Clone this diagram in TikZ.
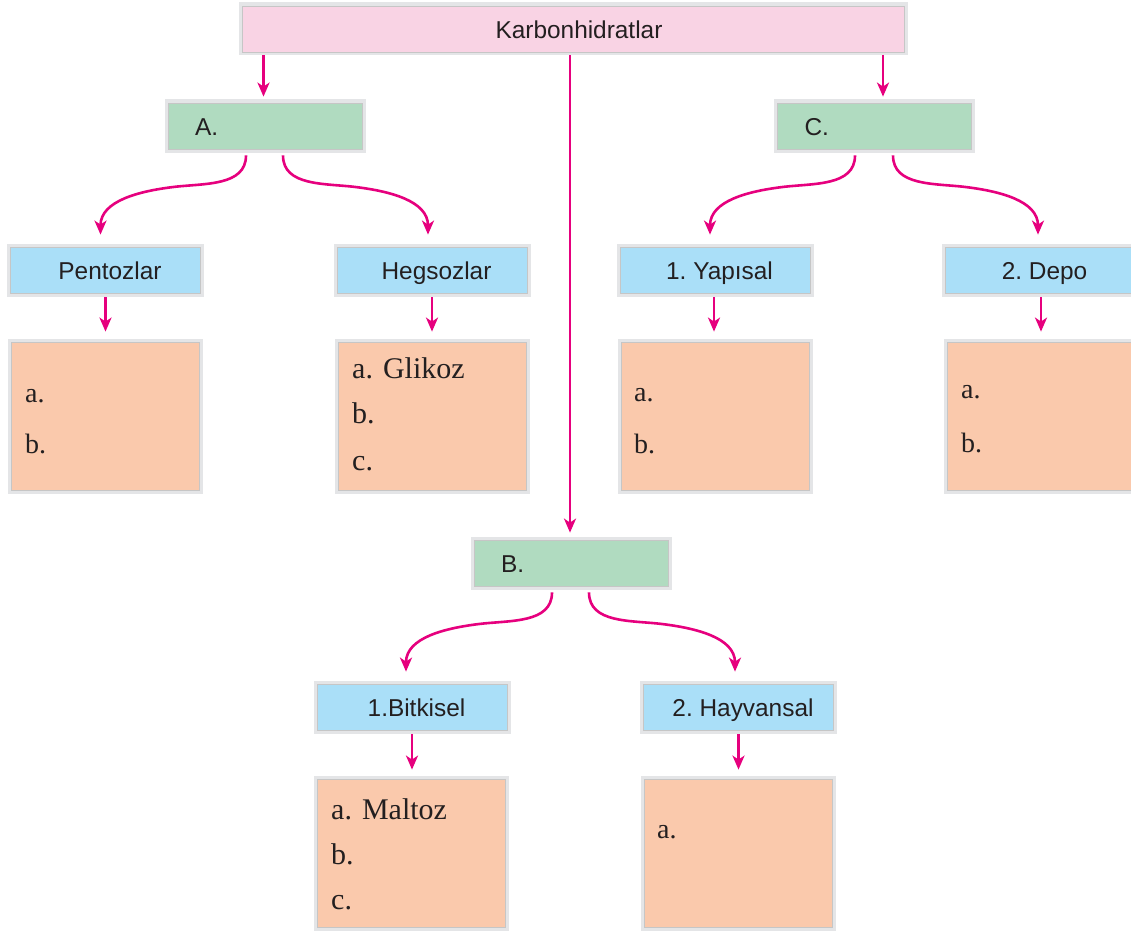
\documentclass[tikz,border=0pt]{standalone}
\usepackage{fontspec}
\setmainfont{Liberation Sans}
\newfontfamily\listfont{Liberation Serif}
\usetikzlibrary{arrows.meta,calc}
\definecolor{pinkfill}{HTML}{F9D3E4}
\definecolor{greenfill}{HTML}{B0DBC0}
\definecolor{bluefill}{HTML}{AADFF8}
\definecolor{orangefill}{HTML}{FAC9AC}
\definecolor{frame}{HTML}{E4E5E7}
\definecolor{boxline}{HTML}{C6C6C6}
\definecolor{magentaline}{HTML}{E6007E}
\definecolor{txt}{HTML}{231F20}
\tikzset{
  box/.style={draw=boxline, line width=0.8pt, preaction={draw=frame, line width=7pt},
    inner sep=0pt, text=txt, font=\fontsize{24.4}{28}\selectfont,
    text height=18.4pt, text depth=0pt},
  topbox/.style={box, fill=pinkfill, minimum width=662pt, minimum height=46pt,
    execute at begin node={\hspace*{12pt}}},
  greenbox/.style={box, fill=greenfill, minimum height=46pt, inner xsep=27pt,
    text width=140pt, align=left},
  bluebox/.style={box, fill=bluefill, minimum width=190pt, minimum height=46pt,
    execute at begin node={\hspace*{9pt}}},
  orangebox/.style={box, fill=orangefill, minimum width=188pt, minimum height=148pt},
  item/.style={anchor=base west, inner sep=0pt, text=txt, font=\listfont\fontsize{28}{32}\selectfont},
  itembig/.style={item, font=\listfont\fontsize{30}{34}\selectfont},
  arr/.style={draw=magentaline, line width=2.6pt,
    -{Stealth[length=14pt,width=12pt,inset=4pt]}}
}
% left-going and right-going bent connectors: start, end (named coordinates)
\newcommand\leftcurve[2]{\draw[arr] (#1) to[out=-90,in=7] ($(#1)!0.5!(#2)+(0,-8)$) to[out=187,in=90] (#2);}
\newcommand\rightcurve[2]{\draw[arr] (#1) to[out=-90,in=173] ($(#1)!0.5!(#2)+(0,-8)$) to[out=-7,in=90] (#2);}
\begin{document}
\begin{tikzpicture}[x=1pt,y=-1pt]
\useasboundingbox (0,0) rectangle (1131,931);
\clip (0,0) rectangle (1131,931);
\fill[white] (0,0) rectangle (1131,931);

% nodes
\node[topbox] (K) at (573,29) {Karbonhidratlar};
\node[greenbox] (A) at (265,126) {A.};
\node[greenbox] (C) at (874.5,126) {C.};
\node[greenbox] (B) at (571,563) {B.};

\node[bluebox] (pent) at (105.5,270) {Pentozlar};
\node[bluebox] (heg) at (432,270) {Hegsozlar};
\node[bluebox] (yap) at (715,270) {1.\ Yapısal};
\node[bluebox] (depo) at (1040,270) {2.\ Depo};
\node[bluebox] (bitk) at (412,707) {1.Bitkisel};
\node[bluebox] (hayv) at (738.5,707) {2.\ Hayvansal};

\node[orangebox] (po) at (105.5,416) {};
\node[orangebox] (ho) at (432,416) {};
\node[orangebox] (yo) at (715,416) {};
\node[orangebox] (do) at (1041,416) {};
\node[orangebox] (bo) at (411,853) {};
\node[orangebox] (hvo) at (738,853) {};

% list texts
\node[item] (pa) at (25,402) {a.};
\node[item] (pb) at (25,453) {b.};
\node[itembig] (ha) at (352,378) {a. Glikoz};
\node[itembig] (hb) at (352,423) {b.};
\node[itembig] (hc) at (352,470) {c.};
\node[item] (ya) at (634,401) {a.};
\node[item] (yb) at (634,453) {b.};
\node[item] (da) at (961,398) {a.};
\node[item] (db) at (961,452) {b.};
\node[itembig] (ba) at (331,819) {a. Maltoz};
\node[itembig] (bb) at (331,864) {b.};
\node[itembig] (bc) at (331,909) {c.};
\node[item] (hva) at (657,838) {a.};

% straight arrows from the top box
\draw[arr] ($(K.south -| A.north)+(-1.5,3)$) -- ($(A.north)+(-1.5,-6)$);
\draw[arr] ($(K.south -| C.north)+(8.5,3)$) -- ($(C.north)+(8.5,-6)$);
\draw[arr] ($(K.south -| B.north)+(-1,3)$) -- ($(B.north)+(-1,-7)$);

% end points of the bent connectors
\coordinate (a1) at ($(A.south)+(-19,6)$);
\coordinate (a2) at ($(A.south)+(18,6)$);
\coordinate (c1) at ($(C.south)+(-19.5,6)$);
\coordinate (c2) at ($(C.south)+(18.5,6)$);
\coordinate (b1) at ($(B.south)+(-19,6)$);
\coordinate (b2) at ($(B.south)+(18,6)$);
\coordinate (tpent) at ($(pent.north)+(-5,-12)$);
\coordinate (theg) at ($(heg.north)+(-4,-12)$);
\coordinate (tyap) at ($(yap.north)+(-5,-12)$);
\coordinate (tdepo) at ($(depo.north)+(-2,-12)$);
\coordinate (tbitk) at ($(bitk.north)+(-6,-12)$);
\coordinate (thayv) at ($(hayv.north)+(-3.5,-12)$);

% curved arrows
\leftcurve{a1}{tpent}
\rightcurve{a2}{theg}
\leftcurve{c1}{tyap}
\rightcurve{c2}{tdepo}
\leftcurve{b1}{tbitk}
\rightcurve{b2}{thayv}

% straight arrows to the list boxes
\draw[arr] ($(pent.south)+(0,4)$) -- ($(pent.south |- po.north)+(0,-10)$);
\draw[arr] ($(heg.south)+(0,4)$) -- ($(heg.south |- ho.north)+(0,-10)$);
\draw[arr] ($(yap.south)+(-1,4)$) -- ($(yap.south |- yo.north)+(-1,-10)$);
\draw[arr] ($(depo.south)+(1,4)$) -- ($(depo.south |- do.north)+(1,-10)$);
\draw[arr] ($(bitk.south)+(0,4)$) -- ($(bitk.south |- bo.north)+(0,-9)$);
\draw[arr] ($(hayv.south)+(0,4)$) -- ($(hayv.south |- hvo.north)+(0,-9)$);
\end{tikzpicture}
\end{document}
